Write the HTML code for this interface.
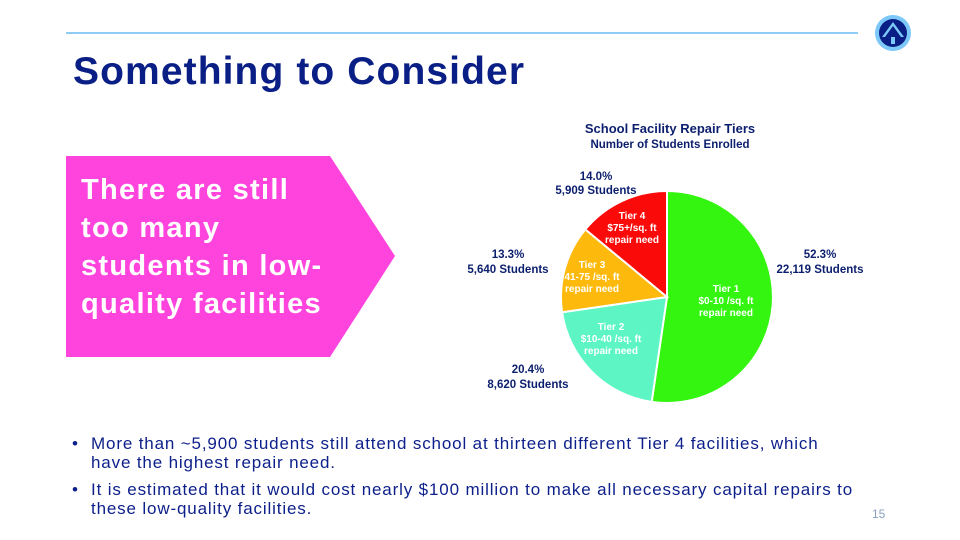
<!DOCTYPE html>
<html><head><meta charset="utf-8"><style>
body{margin:0;background:#fff;}
#s{position:relative;width:960px;height:540px;overflow:hidden;font-family:"Liberation Sans",sans-serif;background:#fff;}
.t{position:absolute;color:#0c1f8a;}
</style></head><body><div id="s">
<div style="position:absolute;left:66px;top:32px;width:792px;height:2px;background:#8fcdf5"></div>
<svg style="position:absolute;left:874px;top:14px" width="38" height="38" viewBox="0 0 38 38">
<circle cx="19" cy="19" r="18" fill="#7cc8f8"/><circle cx="19" cy="19" r="14" fill="#0a1f86"/>
<path d="M8 23 L19 8 L30 23 Z" fill="#7cc8f8"/><path d="M11 23 L19 12 L27 23 Z" fill="#0a1f86"/>
<rect x="14" y="22" width="10" height="8" fill="#0a1f86"/><rect x="17" y="23" width="4" height="7" fill="#7cc8f8"/>
</svg>
<div class="t" style="left:73px;top:50px;font-size:39px;font-weight:bold;color:#0a1f86;letter-spacing:1.1px;white-space:nowrap">Something to Consider</div>
<svg style="position:absolute;left:0;top:0" width="960" height="540">
<polygon points="66,156 330,156 395,256 330,357 66,357" fill="#ff44dd"/>
<path d="M667,297 L667,191 A106,106 0 1 1 651.7,401.9 Z" fill="#33f510" stroke="#fff" stroke-width="2"/>
<path d="M667,297 L651.7,401.9 A106,106 0 0 1 562.1,312.3 Z" fill="#5ef5c4" stroke="#fff" stroke-width="2"/>
<path d="M667,297 L562.1,312.3 A106,106 0 0 1 585.3,229.4 Z" fill="#fdb90c" stroke="#fff" stroke-width="2"/>
<path d="M667,297 L585.3,229.4 A106,106 0 0 1 667,191 Z" fill="#fb0a0a" stroke="#fff" stroke-width="2"/>
<g font-family="Liberation Sans,sans-serif" font-size="10" font-weight="bold" fill="#fff" text-anchor="middle">
<text x="726" y="292">Tier 1</text><text x="726" y="304">$0-10 /sq. ft</text><text x="726" y="316">repair need</text>
<text x="611" y="330">Tier 2</text><text x="611" y="342">$10-40 /sq. ft</text><text x="611" y="354">repair need</text>
<text x="592" y="268">Tier 3</text><text x="592" y="280">41-75 /sq. ft</text><text x="592" y="292">repair need</text>
<text x="632" y="219">Tier 4</text><text x="632" y="231">$75+/sq. ft</text><text x="632" y="243">repair need</text>
</g>
<g font-family="Liberation Sans,sans-serif" font-size="11.5" font-weight="bold" fill="#0c1f6e" text-anchor="middle">
<text x="670" y="133" font-size="13">School Facility Repair Tiers</text>
<text x="670" y="148">Number of Students Enrolled</text>
<text x="596" y="180">14.0%</text><text x="596" y="194">5,909 Students</text>
<text x="820" y="258">52.3%</text><text x="820" y="273">22,119 Students</text>
<text x="508" y="258">13.3%</text><text x="508" y="273">5,640 Students</text>
<text x="528" y="373">20.4%</text><text x="528" y="388">8,620 Students</text>
</g>
</svg>
<div style="position:absolute;left:81px;top:171px;width:270px;color:#fff;font-size:29px;font-weight:bold;line-height:38px;white-space:nowrap;letter-spacing:1.3px">There are still<br>too many<br>students in low-<br>quality facilities</div>
<div class="t" style="left:72px;top:434px;font-size:17px;line-height:19px;white-space:nowrap;letter-spacing:0.85px">
<div style="position:relative;padding-left:19px;margin-bottom:8px"><span style="position:absolute;left:0">•</span>More than ~5,900 students still attend school at thirteen different Tier 4 facilities, which<br>have the highest repair need.</div>
<div style="position:relative;padding-left:19px"><span style="position:absolute;left:0">•</span>It is estimated that it would cost nearly $100 million to make all necessary capital repairs to<br>these low-quality facilities.</div>
</div>
<div style="position:absolute;left:872px;top:507px;font-size:12px;color:#8aa0c0">15</div>
</div></body></html>
